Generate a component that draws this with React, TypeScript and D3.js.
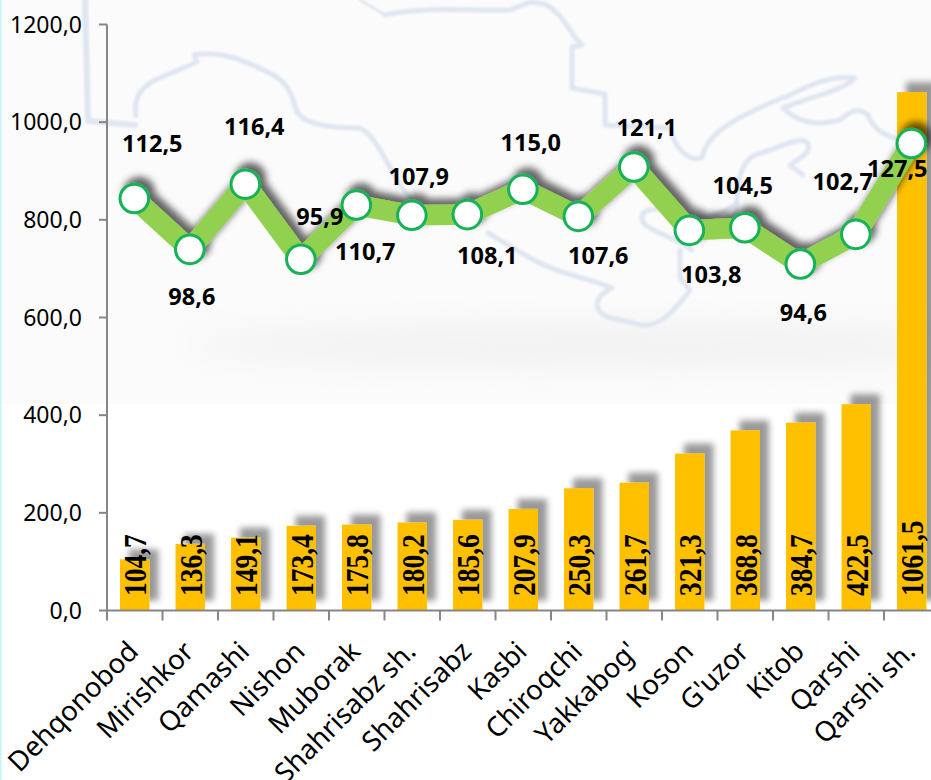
import React from "react";
import * as d3 from "d3";

const categories = ["Dehqonobod","Mirishkor","Qamashi","Nishon","Muborak","Shahrisabz sh.","Shahrisabz","Kasbi","Chiroqchi","Yakkabog'","Koson","G'uzor","Kitob","Qarshi","Qarshi sh."];
const barValues = [104.7,136.3,149.1,173.4,175.8,180.2,185.6,207.9,250.3,261.7,321.3,368.8,384.7,422.5,1061.5];
const lineValues = [112.5,98.6,116.4,95.9,110.7,107.9,108.1,115.0,107.6,121.1,103.8,104.5,94.6,102.7,127.5];
const yTicks = [0,200,400,600,800,1000,1200];

// Label placement relative to each marker (layout only)
const lineLabelDx = [18,2,9,19,9,7,20,8,20,13,22,-2,3,-13,-14];
const lineLabelDy = [-54,48,-57,-42,47,-38,41,-46,40,-39,45,-42,49,-52,25];

// Decorative watermark map behind the chart
const mapPaths = [
  {w:6,d:"M85,0 L88,121 L135,125"},
  {w:5,d:"M136,116 C133,100 140,88 155,80 L197,62 L194,55 C220,50 245,60 275,76 C290,85 293,100 297,112 C305,125 330,128 360,128 C375,135 385,160 400,185"},
  {w:4,d:"M400,185 L412,200"},
  {w:3,d:"M360,0 L385,15"},
  {w:5,d:"M385,15 C430,5 480,12 510,10 L530,2 L545,4 C565,15 570,35 582,45 L572,47 L572,88 L605,94 L605,125 L670,128 C675,150 690,162 702,158 C705,140 720,122 790,95 C810,85 830,75 855,78 C845,90 815,95 783,108 C800,125 820,125 840,120 C850,110 860,108 868,115 C875,135 895,138 905,142"},
  {w:5,d:"M735,222 C738,195 735,165 755,155 C780,148 800,135 808,143 C812,155 795,160 790,165 L803,175"},
  {w:5,d:"M735,205 C715,218 695,222 672,212 C650,205 635,212 645,225 C660,235 680,240 692,250"},
  {w:5,d:"M680,250 L680,278 L690,290 C675,310 660,328 640,325 C625,318 600,322 597,305 C598,295 605,292 612,288 C590,278 560,275 530,258 L488,233"},
];

const W = 931, H = 780;
const x0 = 107, baseline = 610.5, top = 24.5, step = 55.5;

export default function App() {
  const x = d3.scaleBand<string>().domain(categories).range([x0, x0 + step * categories.length]).paddingInner(0.47).paddingOuter(0.235);
  const y = d3.scaleLinear().domain([0,1200]).range([baseline, top]);
  const y2 = d3.scaleLinear().domain([0,160]).range([baseline, top]);
  const cx = (c: string) => (x(c) as number) + x.bandwidth()/2 - 0.4;
  const line = d3.line<number>().x((_, i) => cx(categories[i])).y(d => y2(d));
  const tickFont = "'Noto Sans', sans-serif";
  return (
    <svg width={W} height={H} viewBox={`0 0 ${W} ${H}`} style={{position:"absolute",left:0,top:0,display:"block",background:"#fff"}}>
      <defs>
        <filter id="barShadow" filterUnits="userSpaceOnUse" x="0" y="0" width={W+40} height={H}>
          <feGaussianBlur in="SourceAlpha" stdDeviation="3" result="b"/>
          <feOffset in="b" dx="9" dy="-10" result="o"/>
          <feFlood floodColor="#000" floodOpacity="0.4"/>
          <feComposite in2="o" operator="in" result="s"/>
          <feMerge><feMergeNode in="s"/><feMergeNode in="SourceGraphic"/></feMerge>
        </filter>
        <filter id="lineShadow" filterUnits="userSpaceOnUse" x="0" y="0" width={W+40} height={H}>
          <feGaussianBlur in="SourceAlpha" stdDeviation="3.5" result="b"/>
          <feOffset in="b" dx="5" dy="-6" result="o"/>
          <feFlood floodColor="#000" floodOpacity="0.6"/>
          <feComposite in2="o" operator="in" result="s"/>
          <feMerge><feMergeNode in="s"/><feMergeNode in="SourceGraphic"/></feMerge>
        </filter>
        <filter id="soft"><feGaussianBlur stdDeviation="1"/></filter>
        <filter id="veil" filterUnits="userSpaceOnUse" x="-100" y="200" width="1200" height="300"><feGaussianBlur stdDeviation="18"/></filter>
        <clipPath id="bgClip"><rect x="0" y="0" width={W} height="404"/></clipPath>
      </defs>

      <g clipPath="url(#bgClip)">
        <rect x="0" y="0" width={W} height="404" fill="#fbfbfb"/>
        <ellipse cx="600" cy="345" rx="420" ry="16" fill="#eeeeee" filter="url(#veil)"/>
        <g fill="none" stroke="#dfe6f1" strokeLinejoin="round" strokeLinecap="round" filter="url(#soft)">
          {mapPaths.map((p,i) => <path key={i} d={p.d} strokeWidth={p.w}/>)}
        </g>
      </g>
      <rect x="0" y="0" width="1.5" height={H} fill="#c4f5fa"/>

      <g filter="url(#barShadow)">
        {categories.map((c,i) => (
          <rect key={c} x={x(c)} y={y(barValues[i])} width={x.bandwidth()} height={baseline - y(barValues[i])} fill="#ffc000"/>
        ))}
      </g>

      <g stroke="#868686" strokeWidth="2" fill="none">
        <line x1={x0} x2={x0} y1={top} y2={baseline}/>
        <line x1={x0} x2={W + 20} y1={baseline} y2={baseline}/>
        {yTicks.map(t => <line key={t} x1={x0-8} x2={x0} y1={y(t)} y2={y(t)}/>)}
        {d3.range(categories.length + 1).map(i => <line key={i} x1={x0+i*step} x2={x0+i*step} y1={baseline} y2={baseline+10}/>)}
      </g>

      <g fontFamily={tickFont} fontSize="23" fill="#000" textAnchor="end">
        {yTicks.map(t => <text key={t} x={82} y={y(t)+8}>{d3.format(".1f")(t).replace(".",",")}</text>)}
      </g>

      <g fontFamily={tickFont} fontSize="27.5" fill="#000" textAnchor="end">
        {categories.map(c => (
          <text key={c} transform={`translate(${cx(c)-8},${baseline+29}) rotate(-45)`} dy="0.7em">{c}</text>
        ))}
      </g>

      <g filter="url(#lineShadow)">
        <path d={line(lineValues) as string} fill="none" stroke="#92d050" strokeWidth="20.5" strokeLinejoin="miter"/>
        {lineValues.map((v,i) => (
          <circle key={i} cx={cx(categories[i])} cy={y2(v)} r="14.3" fill="#fff" stroke="#12b257" strokeWidth="3"/>
        ))}
      </g>

      <g fontFamily="'Liberation Serif', serif" fontWeight="bold" fontSize="27.5" fill="#000">
        {categories.map((c,i) => (
          <text key={c} transform={`translate(${cx(c)+12},${baseline-14.5}) rotate(-90) scale(1,1.12)`}>{d3.format(".1f")(barValues[i]).replace(".",",")}</text>
        ))}
      </g>

      <g fontFamily="'Open Sans', sans-serif" fontWeight="bold" fontSize="23.5" fill="#000" textAnchor="middle">
        {lineValues.map((v,i) => (
          <text key={i} x={cx(categories[i])+lineLabelDx[i]} y={y2(v)+lineLabelDy[i]+8}>{d3.format(".1f")(v).replace(".",",")}</text>
        ))}
      </g>
    </svg>
  );
}
